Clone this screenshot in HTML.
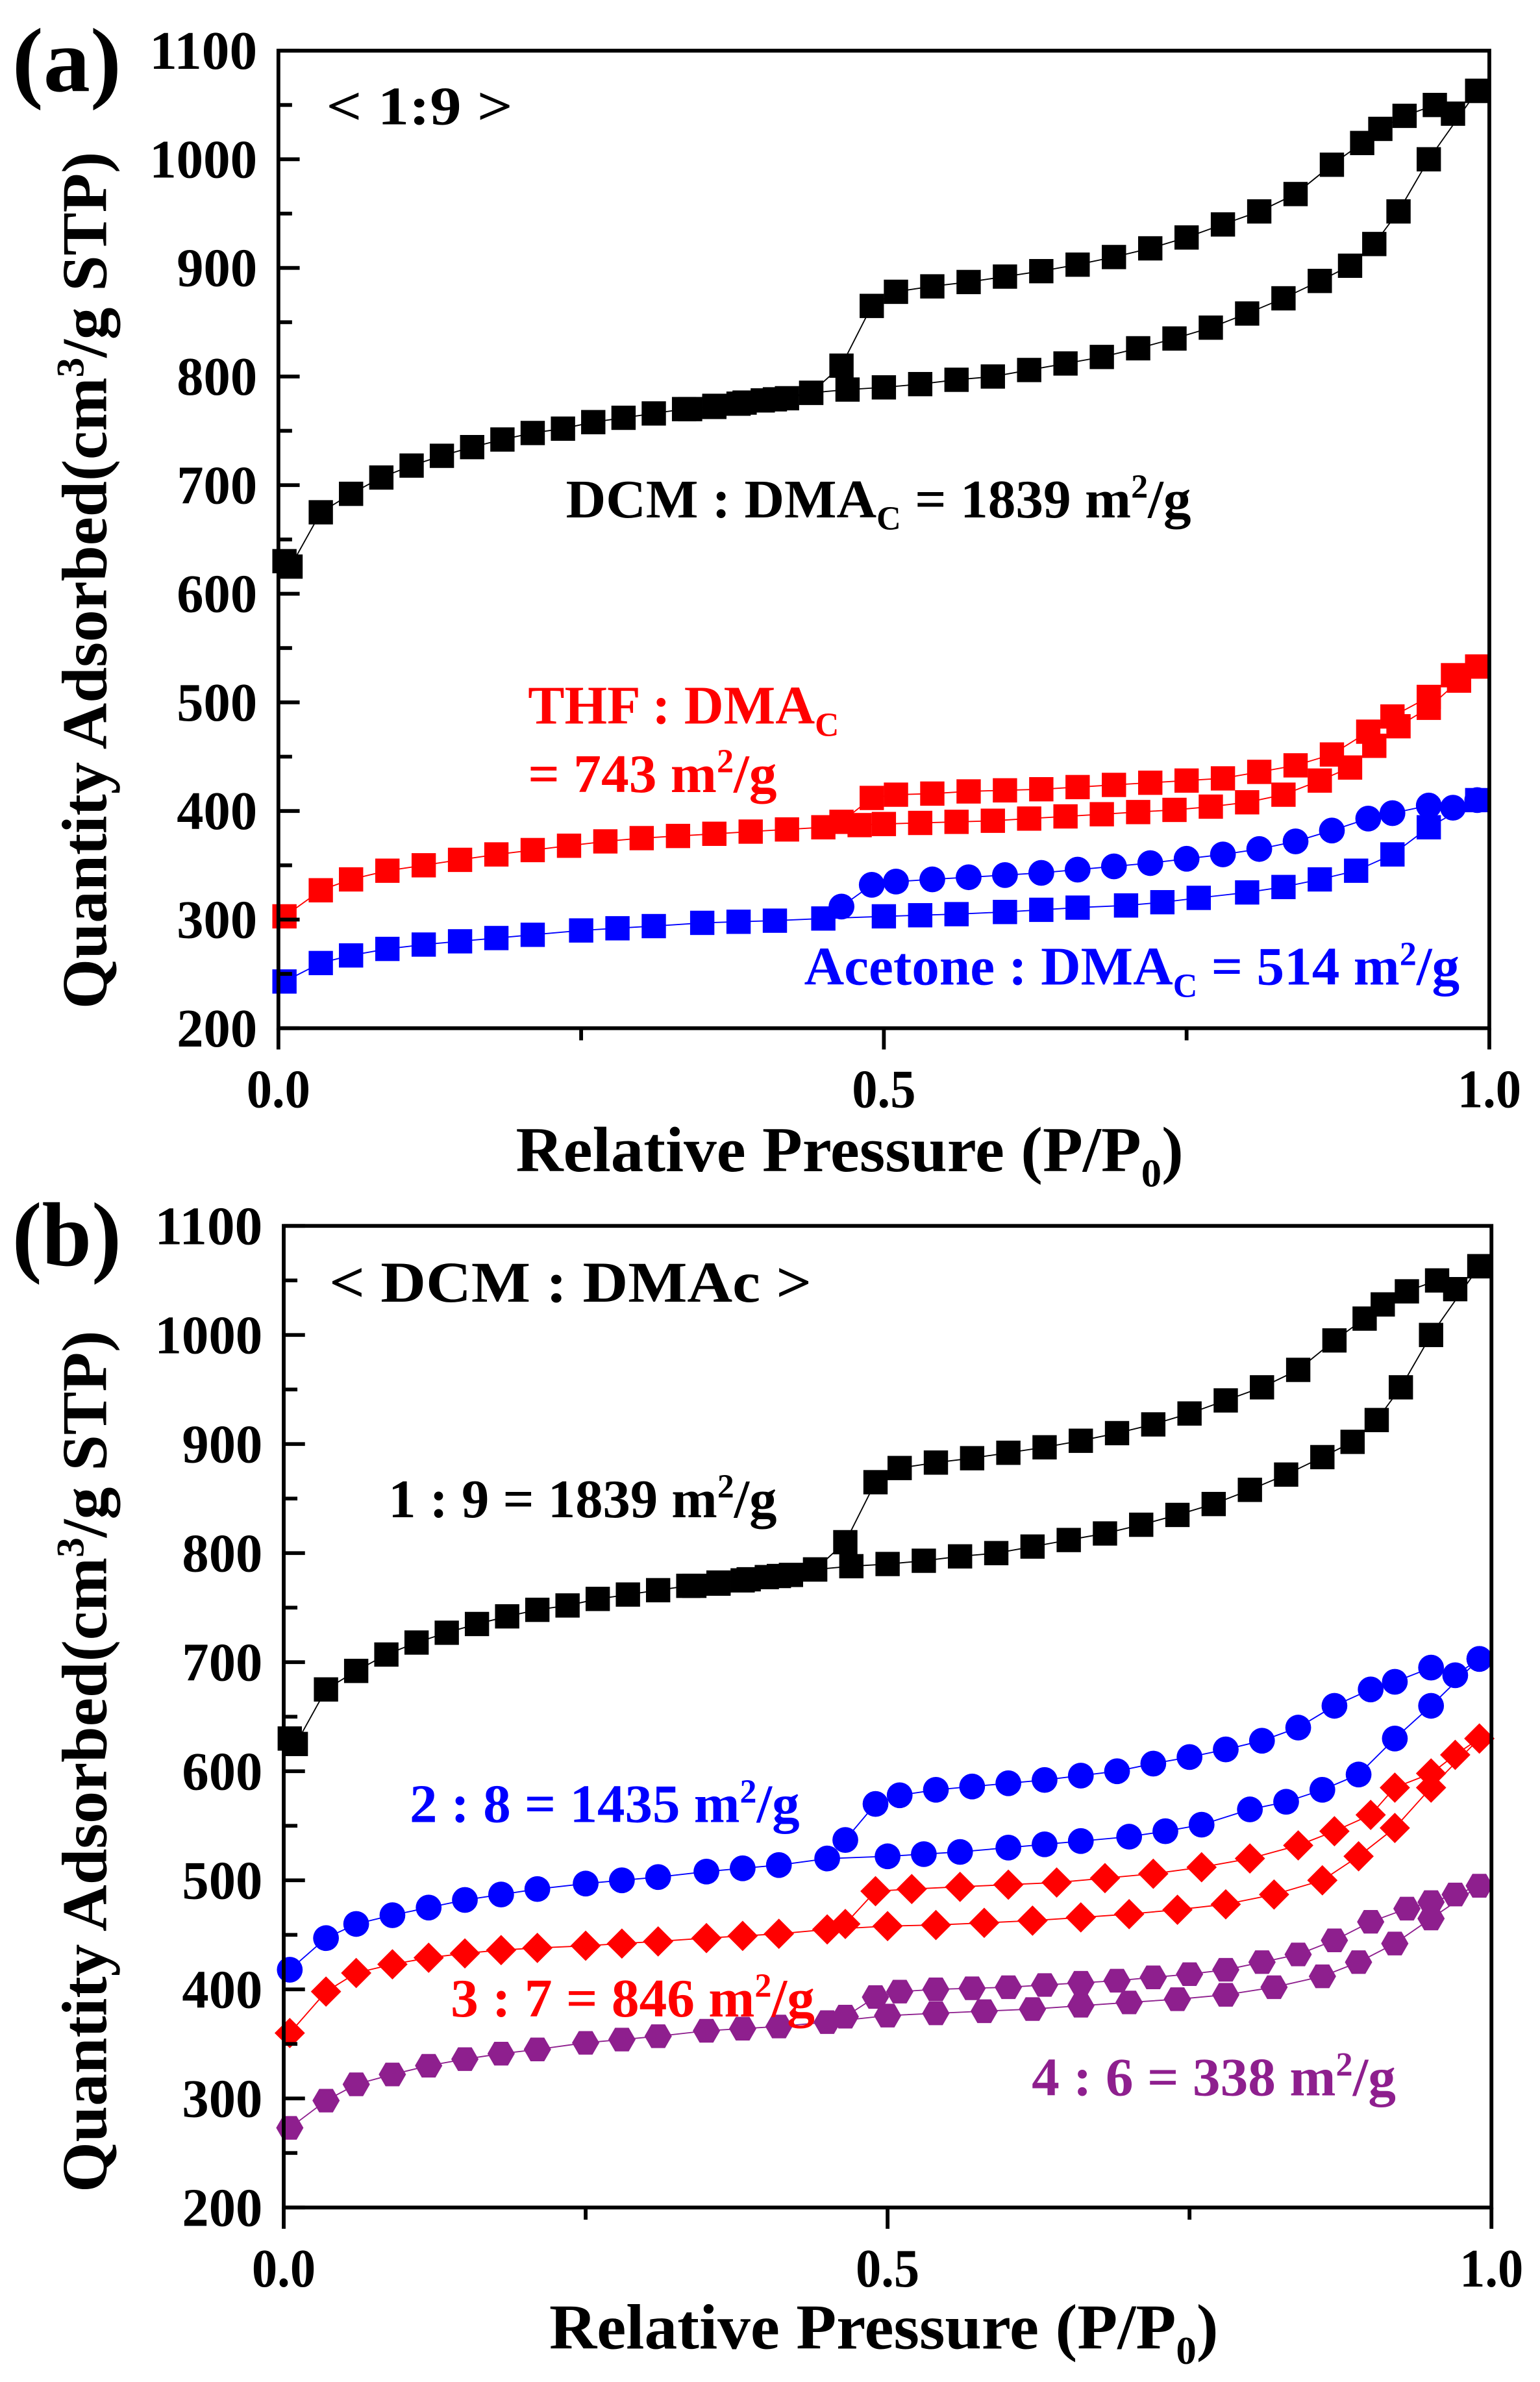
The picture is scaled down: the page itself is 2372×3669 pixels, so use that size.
<!DOCTYPE html>
<html><head><meta charset="utf-8"><style>
html,body{margin:0;padding:0;background:#fff;}
svg{display:block;}
text{font-family:"Liberation Serif",serif;font-weight:bold;}
</style></head><body>
<svg id="s" width="2372" height="3669" viewBox="0 0 1015 1570" xmlns="http://www.w3.org/2000/svg">
<rect width="1015" height="1570" fill="#fff"/>
<g id="g"></g>
<text x="8" y="60" font-size="60" textLength="72" lengthAdjust="spacingAndGlyphs">(a)</text>
<text x="215" y="82" font-size="36" textLength="123" lengthAdjust="spacingAndGlyphs">&lt; 1:9 &gt;</text>
<text x="373" y="341" font-size="36" textLength="412" lengthAdjust="spacingAndGlyphs">DCM : DMA<tspan font-size="22" dy="8">C</tspan><tspan dy="-8"> = 1839 m</tspan><tspan font-size="22" dy="-13">2</tspan><tspan dy="13">/g</tspan></text>
<text x="348" y="477" font-size="36" fill="#f00" textLength="205" lengthAdjust="spacingAndGlyphs">THF : DMA<tspan font-size="22" dy="8">C</tspan></text>
<text x="348" y="522" font-size="36" fill="#f00" textLength="164" lengthAdjust="spacingAndGlyphs">= 743 m<tspan font-size="22" dy="-13">2</tspan><tspan dy="13">/g</tspan></text>
<text x="530" y="649" font-size="36" fill="#00f" textLength="432" lengthAdjust="spacingAndGlyphs">Acetone : DMA<tspan font-size="22" dy="8">C</tspan><tspan dy="-8"> = 514 m</tspan><tspan font-size="22" dy="-13">2</tspan><tspan dy="13">/g</tspan></text>
<text x="340" y="772" font-size="42" textLength="440" lengthAdjust="spacingAndGlyphs">Relative Pressure (P/P<tspan font-size="26" dy="10">0</tspan><tspan dy="-10">)</tspan></text>
<text transform="translate(70,665) rotate(-90)" font-size="42" textLength="565" lengthAdjust="spacingAndGlyphs">Quantity Adsorbed(cm<tspan font-size="26" dy="-15">3</tspan><tspan dy="15">/g STP)</tspan></text>
<text x="8" y="834" font-size="60" textLength="72" lengthAdjust="spacingAndGlyphs">(b)</text>
<text x="217" y="858" font-size="38" textLength="318" lengthAdjust="spacingAndGlyphs">&lt; DCM : DMAc &gt;</text>
<text x="256" y="1000" font-size="36" textLength="256" lengthAdjust="spacingAndGlyphs">1 : 9 = 1839 m<tspan font-size="22" dy="-13">2</tspan><tspan dy="13">/g</tspan></text>
<text x="270" y="1201" font-size="36" fill="#00f" textLength="257" lengthAdjust="spacingAndGlyphs">2 : 8 = 1435 m<tspan font-size="22" dy="-13">2</tspan><tspan dy="13">/g</tspan></text>
<text x="297" y="1329" font-size="36" fill="#f00" textLength="240" lengthAdjust="spacingAndGlyphs">3 : 7 = 846 m<tspan font-size="22" dy="-13">2</tspan><tspan dy="13">/g</tspan></text>
<text x="680" y="1381" font-size="36" fill="#8e1f8e" textLength="240" lengthAdjust="spacingAndGlyphs">4 : 6 = 338 m<tspan font-size="22" dy="-13">2</tspan><tspan dy="13">/g</tspan></text>
<text x="362" y="1548" font-size="42" textLength="441" lengthAdjust="spacingAndGlyphs">Relative Pressure (P/P<tspan font-size="26" dy="10">0</tspan><tspan dy="-10">)</tspan></text>
<text transform="translate(70,1445) rotate(-90)" font-size="42" textLength="568" lengthAdjust="spacingAndGlyphs">Quantity Adsorbed(cm<tspan font-size="26" dy="-15">3</tspan><tspan dy="15">/g STP)</tspan></text>
</svg>
<script>
var NS="http://www.w3.org/2000/svg",G=document.getElementById('g');
function el(t,a){var e=document.createElementNS(NS,t);for(var k in a)e.setAttribute(k,a[k]);G.appendChild(e);return e;}
function txt(x,y,s,anc,fs,len){var a={x:x,y:y,'font-size':fs||30,'text-anchor':anc};if(len){a.textLength=len;a.lengthAdjust='spacingAndGlyphs';}var e=el('text',a);e.textContent=s;}
var blackA=[[0.005,630],[0.01,625],[0.035,675],[0.06,692],[0.085,707],[0.11,718],[0.135,727],[0.16,735],[0.185,742],[0.21,748],[0.235,752],[0.26,758],[0.285,762],[0.31,766],[0.335,770],[0.36,773],[0.385,776],[0.41,779],[0.44,785],[0.47,788],[0.5,790],[0.53,793],[0.56,797],[0.59,800],[0.62,806],[0.65,812],[0.68,818],[0.71,826],[0.74,835],[0.77,845],[0.8,858],[0.83,872],[0.86,888],[0.885,902],[0.905,922],[0.925,952],[0.95,1000],[0.99,1063]];
var blackD=[[0.99,1063],[0.97,1042],[0.955,1050],[0.93,1040],[0.91,1028],[0.895,1015],[0.87,995],[0.84,968],[0.81,952],[0.78,940],[0.75,928],[0.72,918],[0.69,910],[0.66,903],[0.63,897],[0.6,892],[0.57,887],[0.54,883],[0.51,878],[0.49,865],[0.465,810],[0.44,785],[0.42,780],[0.4,778],[0.38,775],[0.36,772],[0.34,770]];
var redA=[[0.005,303],[0.035,327],[0.06,337],[0.09,345],[0.12,350],[0.15,355],[0.18,360],[0.21,364],[0.24,368],[0.27,372],[0.3,375],[0.33,377],[0.36,379],[0.39,381],[0.42,383],[0.45,385],[0.48,387],[0.5,388],[0.53,389],[0.56,390],[0.59,391],[0.62,393],[0.65,395],[0.68,397],[0.71,399],[0.74,401],[0.77,404],[0.8,408],[0.83,415],[0.86,428],[0.885,440],[0.905,460],[0.925,478],[0.95,495],[0.975,520],[0.99,533]];
var redD=[[0.99,533],[0.97,525],[0.95,505],[0.92,487],[0.9,473],[0.87,452],[0.84,442],[0.81,436],[0.78,430],[0.75,428],[0.72,426],[0.69,424],[0.66,422],[0.63,420],[0.6,419],[0.57,418],[0.54,416],[0.51,415],[0.49,412],[0.465,390]];
var blueA=[[0.005,243],[0.035,260],[0.06,267],[0.09,273],[0.12,277],[0.15,280],[0.18,283],[0.21,286],[0.25,290],[0.28,292],[0.31,294],[0.35,297],[0.38,298],[0.41,299],[0.45,301],[0.5,303],[0.53,304],[0.56,305],[0.6,307],[0.63,309],[0.66,311],[0.7,313],[0.73,316],[0.76,320],[0.8,325],[0.83,330],[0.86,337],[0.89,345],[0.92,360],[0.95,385],[0.99,410]];
var blueD=[[0.99,410],[0.97,403],[0.95,405],[0.92,398],[0.9,393],[0.87,382],[0.84,372],[0.81,365],[0.78,360],[0.75,356],[0.72,352],[0.69,349],[0.66,346],[0.63,343],[0.6,341],[0.57,339],[0.54,337],[0.51,335],[0.49,332],[0.465,312]];
var b2A=[[0.005,418],[0.035,447],[0.06,460],[0.09,468],[0.12,475],[0.15,482],[0.18,487],[0.21,492],[0.25,497],[0.28,500],[0.31,503],[0.35,508],[0.38,511],[0.41,514],[0.45,520],[0.5,522],[0.53,524],[0.56,526],[0.6,530],[0.63,533],[0.66,536],[0.7,540],[0.73,545],[0.76,551],[0.8,565],[0.83,572],[0.86,583],[0.89,597],[0.92,630],[0.95,660],[0.99,703]];
var b2D=[[0.99,703],[0.97,688],[0.95,695],[0.92,682],[0.9,675],[0.87,660],[0.84,640],[0.81,628],[0.78,620],[0.75,613],[0.72,607],[0.69,600],[0.66,596],[0.63,592],[0.6,589],[0.57,586],[0.54,583],[0.51,578],[0.49,570],[0.465,537]];
var r3A=[[0.005,360],[0.035,398],[0.06,415],[0.09,423],[0.12,429],[0.15,433],[0.18,436],[0.21,438],[0.25,440],[0.28,442],[0.31,444],[0.35,447],[0.38,449],[0.41,451],[0.45,455],[0.5,458],[0.54,459],[0.58,461],[0.62,463],[0.66,466],[0.7,469],[0.74,473],[0.78,478],[0.82,487],[0.86,500],[0.89,522],[0.92,548],[0.95,585],[0.99,630]];
var r3D=[[0.99,630],[0.97,615],[0.95,598],[0.92,585],[0.9,560],[0.87,545],[0.84,532],[0.8,520],[0.76,512],[0.72,506],[0.68,502],[0.64,498],[0.6,496],[0.56,494],[0.52,492],[0.49,490],[0.465,460]];
var p4A=[[0.005,273],[0.035,298],[0.06,313],[0.09,322],[0.12,330],[0.15,336],[0.18,341],[0.21,345],[0.25,351],[0.28,354],[0.31,357],[0.35,362],[0.38,364],[0.41,366],[0.45,370],[0.5,376],[0.54,378],[0.58,380],[0.62,382],[0.66,385],[0.7,388],[0.74,391],[0.78,395],[0.82,402],[0.86,412],[0.89,425],[0.92,442],[0.95,465],[0.99,495]];
var p4D=[[0.99,495],[0.97,487],[0.95,480],[0.93,474],[0.9,462],[0.87,445],[0.84,432],[0.81,425],[0.78,418],[0.75,414],[0.72,411],[0.69,408],[0.66,406],[0.63,404],[0.6,402],[0.57,401],[0.54,400],[0.51,398],[0.49,393],[0.465,375]];

function panel(L,T,R,B,sets){
  function X(p){return L+p*(R-L);} function Y(v){return B-(v-200)/900*(B-T);}
  sets.forEach(function(s){
    var pts=s.d.map(function(q){return X(q[0]).toFixed(1)+','+Y(q[1]).toFixed(1);}).join(' ');
    el('polyline',{points:pts,fill:'none',stroke:s.c,'stroke-width':0.8});
    s.d.forEach(function(q){var x=X(q[0]),y=Y(q[1]),r=8;
      if(s.m=='s')el('rect',{x:x-r,y:y-r,width:2*r,height:2*r,fill:s.c});
      else if(s.m=='c')el('circle',{cx:x,cy:y,r:r+0.5,fill:s.c});
      else if(s.m=='d')el('polygon',{points:(x)+','+(y-10)+' '+(x+10)+','+y+' '+x+','+(y+10)+' '+(x-10)+','+y,fill:s.c});
      else {var a=[];for(var i=0;i<6;i++){var t=Math.PI/3*i;a.push((x+9*Math.cos(t)).toFixed(1)+','+(y+9*Math.sin(t)).toFixed(1));}el('polygon',{points:a.join(' '),fill:s.c});}
    });
  });
  el('rect',{x:L,y:T,width:R-L,height:B-T,fill:'none',stroke:'#000','stroke-width':2.5});
  for(var v=200;v<=1100;v+=50){var y=Y(v);el('line',{x1:L,y1:y,x2:L+(v%100==0?14:9),y2:y,stroke:'#000','stroke-width':2.5});
    if(v%100==0)txt(L-14,y+12,''+v,'end',36,v>=1000?71:53);}
  [0,0.5,1].forEach(function(p){el('line',{x1:X(p),y1:B,x2:X(p),y2:B+14,stroke:'#000','stroke-width':2.5});txt(X(p),B+52,p.toFixed(1),'middle',36,42);});
  [0.25,0.75].forEach(function(p){el('line',{x1:X(p),y1:B,x2:X(p),y2:B+8,stroke:'#000','stroke-width':2.5});});
}
panel(183.5,33.4,981.6,677.7,[
 {d:blackA,c:'#000',m:'s'},{d:blackD,c:'#000',m:'s'},
 {d:redA,c:'#f00',m:'s'},{d:redD,c:'#f00',m:'s'},
 {d:blueA,c:'#00f',m:'s'},{d:blueD,c:'#00f',m:'c'}]);
panel(187,808,983,1455,[
 {d:blackA,c:'#000',m:'s'},{d:blackD,c:'#000',m:'s'},
 {d:b2A,c:'#00f',m:'c'},{d:b2D,c:'#00f',m:'c'},
 {d:r3A,c:'#f00',m:'d'},{d:r3D,c:'#f00',m:'d'},
 {d:p4A,c:'#8e1f8e',m:'h'},{d:p4D,c:'#8e1f8e',m:'h'}]);
</script>
</body></html>
